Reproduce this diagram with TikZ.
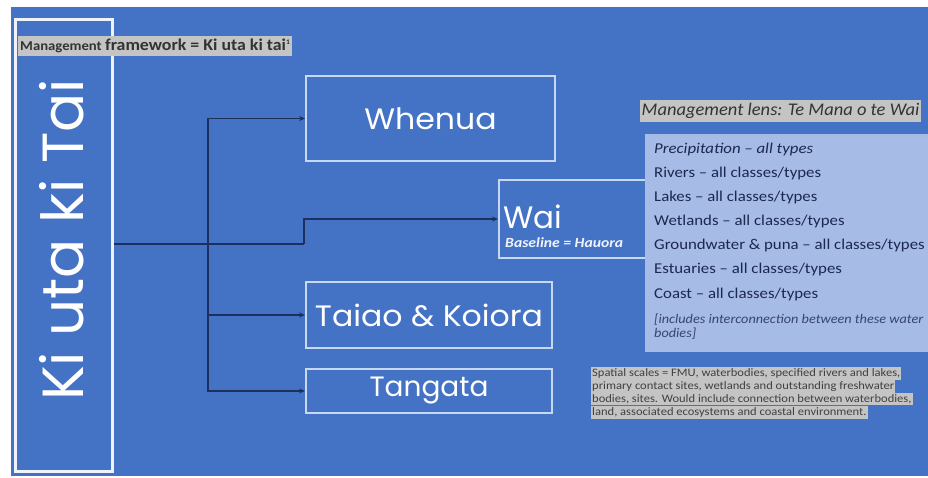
\documentclass[tikz,border=0pt]{standalone}
\usepackage{fontspec}
\setmainfont{Carlito}
\newfontfamily\geo{Poppins}
\newfontfamily\geow[FakeStretch=1.07]{Poppins}
\newfontfamily\wideA[FakeStretch=1.08]{Carlito}
\newfontfamily\wideL[FakeStretch=1.04]{Carlito}
\newfontfamily\wideB[FakeStretch=1.12]{Carlito}
\newfontfamily\wideC[FakeStretch=1.1]{Carlito}
\usetikzlibrary{arrows.meta}
\definecolor{bgblue}{HTML}{4472C4}
\definecolor{boxline}{HTML}{C9D8F2}
\definecolor{navy}{HTML}{1C2F5E}
\definecolor{lensfill}{HTML}{A6BBE6}
\definecolor{lenstext}{HTML}{1C2850}
\definecolor{hl}{HTML}{C4C4C4}
\tikzset{
  framebox/.style={draw=boxline, line width=2pt, anchor=north west, inner sep=0pt},
  conn/.style={draw=navy, line width=1.3pt, -{Stealth[length=6pt,width=5pt]}},
  plainconn/.style={draw=navy, line width=1.3pt},
  bigtext/.style={font=\geow\fontsize{29.5}{32}\selectfont, text=white},
  lensline/.style={anchor=base west, font=\wideB\fontsize{15}{17}\selectfont, text=lenstext, inner sep=0pt},
  spatial/.style={anchor=base west, font=\wideC\fontsize{11.4}{12}\selectfont, text=black!75, fill=hl, inner xsep=1pt, inner ysep=1.5pt},
}
\begin{document}
\begin{tikzpicture}[x=1pt,y=-1pt]
\useasboundingbox (0,0) rectangle (928,477);
\clip (0,0) rectangle (928,477);
\fill[white] (0,0) rectangle (928,477);
\fill[bgblue] (11,7) rectangle (928,476);
% left box
\node[framebox, line width=3pt, draw=white!92!bgblue, minimum width=97, minimum height=452] (kut) at (14,18) {};
\node[rotate=90, font=\geo\fontsize{58}{62}\selectfont, text=white] (kuttext) at (62,240) {Ki uta ki Tai};
% management framework label
\node[anchor=west, fill=hl, inner xsep=2pt, minimum height=20, inner ysep=1pt, text=black!80, font=\wideA\bfseries] (mf) at (18,46)
  {\fontsize{13.6}{15}\selectfont Management \fontsize{16.5}{17}\selectfont framework = Ki uta ki tai\textsuperscript{\fontsize{7}{7}\selectfont 1}};
% right boxes
\node[framebox, minimum width=249, minimum height=85] (whenua) at (305,75) {};
\node[bigtext] (whenuat) at (whenua.center) {Whenua};
\node[framebox, minimum width=246, minimum height=66] (taiao) at (305,281) {};
\node[bigtext] (taiaot) at (taiao.center) {Taiao \& Koiora};
\node[framebox, minimum width=246, minimum height=44] (tangata) at (305,368) {};
\node[bigtext, font=\geo\fontsize{28}{30}\selectfont] (tangatat) at (tangata.center) {Tangata};
\node[framebox, minimum width=150, minimum height=78] (wai) at (498,179) {};
\node[anchor=base west, inner sep=0pt, font=\geo\fontsize{31}{34}\selectfont, text=white] (wait) at (503,228) {Wai};
\node[anchor=base west, inner sep=0pt, font=\wideB\bfseries\itshape\fontsize{14}{15}\selectfont, text=white!92!bgblue] (baseline) at (505,247) {Baseline = Hauora};
% connectors
\coordinate (bend) at (304,244);
\coordinate (trunk) at (208,244);
\draw[plainconn] (kut.east |- bend) -- (bend);
\draw[conn] (bend) |- (wai.west);
\draw[conn] (trunk) |- (whenua.west);
\draw[conn] (trunk) |- (taiao.west);
\draw[conn] (trunk) |- (tangata.west);
% management lens
\node[anchor=west, fill=hl, inner xsep=1.5pt, minimum height=22, inner ysep=1pt, text=black!80, font=\wideL\itshape\fontsize{17.8}{19}\selectfont] (ml) at (640,111) {Management lens: Te Mana o te Wai};
\node[anchor=north west, fill=lensfill, inner sep=0pt, minimum width=300, minimum height=218] (lens) at (645,134) {};
\node[lensline, font=\wideB\itshape\fontsize{15}{17}\selectfont] (l1) at (654,153) {Precipitation – all types};
\node[lensline] (l2) at (654,177) {Rivers – all classes/types};
\node[lensline] (l3) at (654,201.5) {Lakes – all classes/types};
\node[lensline] (l4) at (654,225.5) {Wetlands – all classes/types};
\node[lensline] (l5) at (654,249.5) {Groundwater \& puna – all classes/types};
\node[lensline] (l6) at (654,273.5) {Estuaries – all classes/types};
\node[lensline] (l7) at (654,298.5) {Coast – all classes/types};
\node[lensline, font=\wideA\itshape\fontsize{13.2}{14}\selectfont, text=lenstext!80!lensfill] (l8) at (654,323) {[includes interconnection between these water};
\node[lensline, font=\wideA\itshape\fontsize{13.2}{14}\selectfont, text=lenstext!80!lensfill] (l9) at (654,337.5) {bodies]};
% spatial scales
\node[spatial] (s1) at (591,376.5) {Spatial scales = FMU, waterbodies, specified rivers and lakes,};
\node[spatial] (s2) at (591,389.5) {primary contact sites, wetlands and outstanding freshwater};
\node[spatial] (s3) at (591,402.5) {bodies, sites. Would include connection between waterbodies,};
\node[spatial] (s4) at (591,415.5) {land, associated ecosystems and coastal environment.};
\end{tikzpicture}
\end{document}
